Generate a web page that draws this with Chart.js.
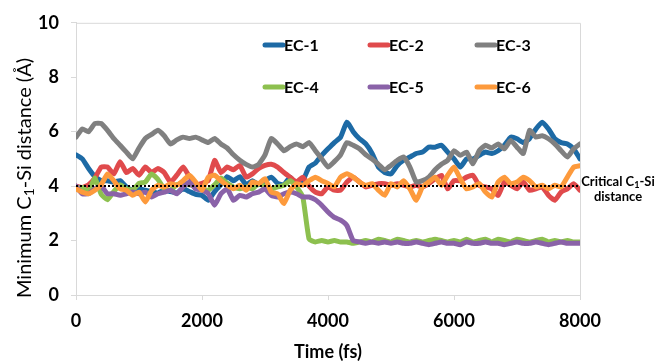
<!DOCTYPE html>
<html>
<head>
<meta charset="utf-8">
<script src="https://cdn.jsdelivr.net/npm/chart.js@4.4.1/dist/chart.umd.min.js"></script>
<style>
  html, body { margin: 0; padding: 0; background: #fff; }
  #wrap { position: relative; width: 655px; height: 363px; }
</style>
</head>
<body>
<div id="wrap"><canvas id="graphic" width="655" height="363"></canvas></div>
<script>
// time axis in fs, one reading every 100 fs
const time = [];
for (let t = 0; t <= 8000; t += 100) time.push(t);

// minimum C1-Si distance (Angstrom)
const ec1 = [
  5.15,5.0,4.65,4.35,4.2,4.2,4.15,4.2,3.97,3.85,
  3.9,3.85,3.8,3.75,3.85,3.8,3.75,3.9,3.8,3.7,
  3.66,3.48,3.8,4.05,4.35,4.2,4.35,4.05,4.2,4.05,
  4.2,4.33,4.1,4.05,4.33,4.05,4.2,4.7,4.85,5.13,
  5.37,5.6,5.8,6.35,6.0,5.74,5.55,5.2,4.7,4.5,
  4.45,4.76,4.95,5.07,5.2,5.25,5.43,5.43,5.5,5.25,
  5.0,4.7,5.0,5.0,5.13,5.25,5.2,5.3,5.5,5.8,
  5.74,5.6,5.75,6.1,6.35,6.1,5.74,5.6,5.55,5.37,
  5.0
];
const ec2 = [
  4.0,3.95,4.05,4.3,4.7,4.7,4.45,4.9,4.5,4.65,
  4.4,4.7,4.5,4.65,4.5,4.15,4.4,4.7,4.35,4.05,
  4.1,4.2,4.95,4.5,4.7,4.6,4.76,4.33,4.45,4.65,
  4.76,4.8,4.7,4.5,4.33,4.15,4.33,4.0,3.78,3.72,
  3.97,3.85,3.85,4.15,4.33,4.15,3.97,4.03,4.09,4.09,
  4.03,4.09,4.03,3.97,4.03,3.97,4.09,4.27,4.4,3.9,
  4.2,4.2,4.33,4.4,4.03,3.97,3.9,3.66,4.15,4.03,
  3.9,4.15,3.85,3.9,3.97,3.66,3.48,3.78,3.9,4.09,
  3.85
];
const ec3 = [
  5.8,6.1,6.0,6.3,6.3,6.05,5.75,5.5,5.25,5.0,
  5.4,5.75,5.9,6.05,5.85,5.55,5.7,5.8,5.75,5.8,
  5.7,5.6,5.75,5.55,5.4,5.15,4.95,4.8,4.7,4.8,
  5.15,5.75,5.55,5.3,5.45,5.55,5.45,5.6,5.3,5.0,
  4.7,4.9,5.15,5.6,5.5,5.37,5.15,5.0,4.8,4.6,
  4.76,4.95,5.07,4.7,4.15,4.2,4.33,4.6,4.8,4.95,
  5.3,5.13,5.25,4.82,5.3,5.5,5.4,5.55,5.37,5.68,
  5.43,5.2,6.05,5.8,5.85,5.74,5.55,5.3,5.07,5.37,
  5.55
];
const ec4 = [
  3.9,3.95,3.8,4.3,3.7,3.5,3.8,4.05,3.9,3.85,
  4.1,4.15,4.45,4.25,3.9,3.85,4.05,4.1,4.05,4.0,
  3.9,3.85,4.05,4.3,4.1,3.97,3.9,3.97,3.9,4.1,
  3.97,3.9,3.97,4.03,4.2,3.97,3.6,2.05,1.95,2.0,
  1.95,2.0,1.95,1.95,1.9,1.95,2.0,1.95,2.05,2.0,
  1.95,2.05,2.0,1.95,2.0,1.95,2.0,2.05,2.0,1.95,
  2.0,1.95,2.05,1.95,2.0,2.05,1.95,2.05,2.0,1.95,
  2.05,2.0,1.95,2.0,2.05,1.95,2.0,1.95,2.0,1.95,
  1.95
];
const ec5 = [
  4.0,3.72,3.72,3.9,4.0,3.72,3.72,3.66,3.72,3.78,
  3.72,3.78,3.6,3.72,3.78,3.85,3.72,3.97,4.15,3.9,
  3.85,3.72,3.3,3.72,3.9,3.48,3.66,3.6,3.72,3.78,
  3.9,3.66,3.6,3.72,3.78,3.72,3.6,3.6,3.5,3.3,
  3.05,2.85,2.75,2.55,2.0,1.95,1.9,1.95,1.9,1.95,
  1.9,1.95,1.9,1.9,1.95,1.9,1.85,1.9,1.95,1.9,
  1.9,1.85,1.95,1.9,1.9,1.95,1.9,1.9,1.85,1.9,
  1.95,1.9,1.9,1.95,1.9,1.85,1.9,1.95,1.9,1.9,
  1.9
];
const ec6 = [
  3.9,3.78,3.72,3.85,4.05,4.45,4.2,3.9,3.85,3.66,
  3.78,3.42,3.85,4.03,3.97,4.09,4.03,4.2,4.4,4.15,
  3.85,4.33,4.4,4.2,4.03,3.9,4.03,3.85,4.15,4.09,
  4.27,3.78,3.72,3.36,3.85,4.09,4.03,4.2,4.33,4.2,
  4.1,3.97,4.33,4.45,4.33,4.15,4.03,4.09,3.85,3.66,
  4.09,3.97,4.2,3.9,3.48,3.97,4.15,4.33,4.03,4.4,
  4.7,4.27,3.9,3.97,4.09,3.78,3.6,4.15,4.33,4.09,
  4.15,4.33,4.2,3.97,4.03,3.9,4.03,3.97,4.33,4.7,
  4.75
];
const criticalDistance = 4;

const seriesNames = ["EC-1", "EC-2", "EC-3", "EC-4", "EC-5", "EC-6"];
const seriesValues = [ec1, ec2, ec3, ec4, ec5, ec6];
const seriesColors = ["#1d6aa5", "#e04a4c", "#808080", "#8dc04f", "#8a62a8", "#fd9a3c"];
const xTicks = [0, 2000, 4000, 6000, 8000];
const yTicks = [0, 2, 4, 6, 8, 10];

const FONT = "Lato, 'Open Sans', sans-serif";

// turn a series into {x, y} points
function toPoints(values) {
  return values.map((v, i) => ({ x: time[i], y: v }));
}

const datasets = seriesNames.map((name, i) => ({
  label: name,
  data: toPoints(seriesValues[i]),
  borderColor: seriesColors[i],
  backgroundColor: seriesColors[i],
  borderWidth: 5,
  pointRadius: 0,
  tension: 0.15,
  borderJoinStyle: "round",
  borderCapStyle: "round",
  order: 6 - i // later series sit on top, like the original
}));

datasets.push({
  label: "Critical",
  data: [{ x: 0, y: criticalDistance }, { x: 8000, y: criticalDistance }],
  borderColor: "#000",
  borderWidth: 2,
  borderDash: [2, 2],
  pointRadius: 0,
  order: 0
});

// draw text with a subscript part, parts = [[text, isSub], ...]
function drawSubText(ctx, parts, x, y, size, weight) {
  const widths = parts.map(p => {
    ctx.font = weight + " " + (p[1] ? size * 0.7 : size) + "px " + FONT;
    return ctx.measureText(p[0]).width;
  });
  const total = widths.reduce((a, b) => a + b, 0);
  let cx = x - total / 2;
  parts.forEach((p, i) => {
    ctx.font = weight + " " + (p[1] ? size * 0.7 : size) + "px " + FONT;
    ctx.fillText(p[0], cx, p[1] ? y + size * 0.22 : y);
    cx += widths[i];
  });
}

const extras = {
  id: "extras",
  beforeDatasetsDraw(chart) {
    const { ctx, chartArea } = chart;
    ctx.save();
    ctx.strokeStyle = "#d9d9d9";
    ctx.lineWidth = 1;
    ctx.beginPath();
    ctx.moveTo(chartArea.left, chartArea.top + 0.5);
    ctx.lineTo(chartArea.right + 0.5, chartArea.top + 0.5);
    ctx.lineTo(chartArea.right + 0.5, chartArea.bottom);
    ctx.stroke();
    ctx.restore();
  },
  afterDraw(chart) {
    const ctx = chart.ctx;
    ctx.save();
    ctx.fillStyle = "#000";
    ctx.textBaseline = "middle";
    ctx.textAlign = "left";

    // legend, 3 columns x 2 rows
    const colX = [265, 370, 477];
    const rowY = [45, 87];
    seriesNames.forEach((name, i) => {
      const x = colX[i % 3];
      const y = rowY[Math.floor(i / 3)];
      ctx.strokeStyle = seriesColors[i];
      ctx.lineWidth = 5;
      ctx.lineCap = "round";
      ctx.beginPath();
      ctx.moveTo(x, y);
      ctx.lineTo(x + 18, y);
      ctx.stroke();
      ctx.font = "bold 16px " + FONT;
      ctx.fillText(name, x + 19, y + 1);
    });

    // axis titles
    ctx.font = "bold 18px " + FONT;
    ctx.textAlign = "center";
    ctx.fillText("Time (fs)", 328, 352);

    ctx.save();
    ctx.translate(25, 178);
    ctx.rotate(-Math.PI / 2);
    ctx.textAlign = "left";
    drawSubText(ctx, [["Minimum C", false], ["1", true], ["-Si distance (Å)", false]], 0, 0, 20, "normal");
    ctx.restore();

    // critical distance note
    ctx.textAlign = "left";
    drawSubText(ctx, [["Critical C", false], ["1", true], ["-Si", false]], 618, 182, 13, "bold");
    ctx.textAlign = "center";
    ctx.font = "bold 13px " + FONT;
    ctx.fillText("distance", 618, 197);
    ctx.restore();
  }
};

new Chart(document.getElementById("graphic"), {
  type: "line",
  data: { datasets: datasets },
  options: {
    responsive: false,
    animation: false,
    layout: { padding: { top: 22, right: 75, left: 0, bottom: 0 } },
    plugins: { legend: { display: false }, tooltip: { enabled: false } },
    scales: {
      x: {
        type: "linear",
        min: 0,
        max: 8000,
        afterFit(scale) { scale.height = 68; },
        afterBuildTicks(scale) { scale.ticks = xTicks.map(v => ({ value: v })); },
        ticks: {
          callback: v => String(v),
          color: "#000",
          padding: 10,
          maxRotation: 0,
          font: { family: FONT, size: 18, weight: "bold" }
        },
        grid: { drawOnChartArea: false, tickLength: 5, color: "#d9d9d9" },
        border: { color: "#d9d9d9" }
      },
      y: {
        min: 0,
        max: 10,
        afterFit(scale) { scale.width = 76; },
        afterBuildTicks(scale) { scale.ticks = yTicks.map(v => ({ value: v })); },
        ticks: {
          color: "#000",
          padding: 12,
          font: { family: FONT, size: 18, weight: "bold" }
        },
        grid: { drawOnChartArea: false, tickLength: 5, color: "#d9d9d9" },
        border: { color: "#d9d9d9" }
      }
    }
  },
  plugins: [extras]
});
</script>
</body>
</html>
